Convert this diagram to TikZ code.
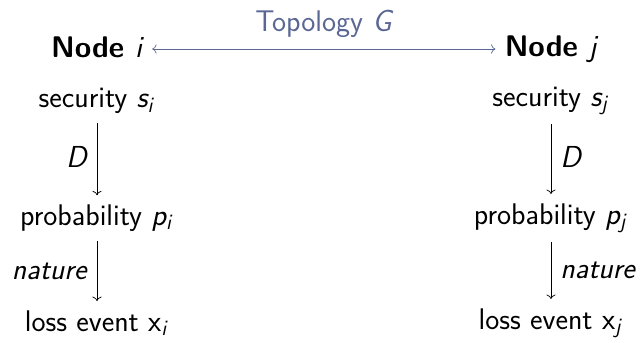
\documentclass[tikz,border=0pt]{standalone}
\usepackage{tikz}
\usetikzlibrary{arrows.meta}
\usetikzlibrary{positioning}
\definecolor{topo}{HTML}{5A6794}
\DeclareMathAlphabet{\mathsl}{OT1}{cmss}{m}{sl}
\DeclareMathAlphabet{\mathup}{OT1}{cmss}{m}{n}
\newcommand{\sv}[2]{$\mathsl{#1}_{\mathsl{#2}}$}

\begin{document}
\begin{tikzpicture}
    [
    x=0.02cm, y=-0.02cm, font=\sffamily\fontsize{17}{20}\selectfont, >=To,
    %Pfeilspitzen
    every node/.style={outer sep=2pt}
    ]
    
    \useasboundingbox (0,0) rectangle (642,342);
    
    %Knoten oben
    \node[font=\sffamily\fontsize{17}{20}\selectfont\bfseries] (ni) at (97,49) {Node \textmd{\sv{i}{}}};
    \node[font=\sffamily\fontsize{17}{20}\selectfont\bfseries] (nj) at (551,49) {Node \textmd{\sv{j}{}}};
    
    %Topologie
    \draw[<->, topo] (ni) -- (nj) node[midway, above=1pt] {Topology \sv{G}{}};
    
    %linke Spalte
    \node (si) at (97,101) {security \sv{s}{i}};
    \node (pi) at (97,218) {probability \sv{p}{i}};
    \node (xi) at (97,323) {loss event $\mathup{x}_{\mathsl{i}}$};
    
    \draw[->] (si) -- (pi) node[midway, left] {\sv{D}{}};
    \draw[->] (pi) -- (xi) node[midway, left] {\textit{nature}};
    
    %rechte Spalte
    \node (sj) at (551,101) {security \sv{s}{j}};
    \node (pj) at (551,218) {probability \sv{p}{j}};
    \node (xj) at (551,323) {loss event $\mathup{x}_{\mathsl{j}}$};
    
    \draw[->] (sj) -- (pj) node[midway, right] {\sv{D}{}};
    \draw[->] (pj) -- (xj) node[midway, right] {\textit{nature}};
\end{tikzpicture}
\end{document}
